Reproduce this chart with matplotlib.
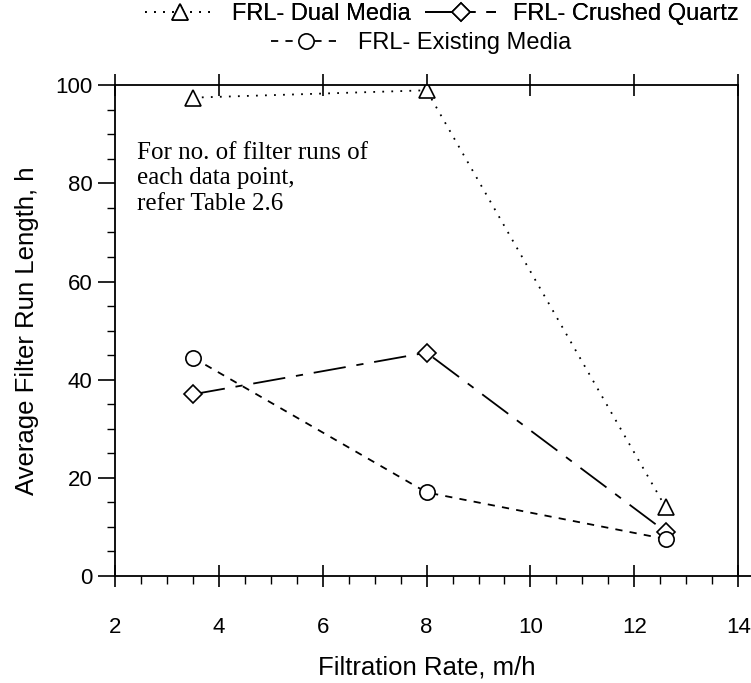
import matplotlib.pyplot as plt
from matplotlib.lines import Line2D
from matplotlib.ticker import MultipleLocator

plt.rcParams['font.family'] = ['Liberation Sans', 'DejaVu Sans']

# filtration rate (m/h) and average filter run length (h)
rate = [3.5, 8.0, 12.6]
frl_dual = [97.5, 99.0, 14.0]
frl_quartz = [37.0, 45.5, 9.0]
frl_existing = [44.5, 17.0, 7.5]

fig = plt.figure(figsize=(7.51, 6.83), dpi=100)
ax = fig.add_axes([0.153, 0.157, 0.830, 0.718])

common = dict(color='black', lw=1.3, markersize=11, markerfacecolor='white',
              markeredgewidth=1.2)
l1, = ax.plot(rate, frl_dual, marker='^', linestyle=(0, (1, 4)),
              label='FRL- Dual Media', **common)
l2, = ax.plot(rate, frl_quartz, marker='D', linestyle=(0, (18, 6, 4, 6)),
              label='FRL- Crushed Quartz', **{**common, 'markersize': 9})
l3, = ax.plot(rate, frl_existing, marker='o', linestyle=(0, (4, 4)),
              label='FRL- Existing Media', **common)

ax.set_xlim(2, 14)
ax.set_ylim(0, 100)
ax.xaxis.set_major_locator(MultipleLocator(2))
ax.xaxis.set_minor_locator(MultipleLocator(0.5))
ax.yaxis.set_major_locator(MultipleLocator(20))
ax.yaxis.set_minor_locator(MultipleLocator(5))
ax.tick_params(axis='x', which='major', direction='inout', length=16, width=1.2,
               pad=22, labelsize=16, top=True)
ax.tick_params(axis='x', which='minor', direction='out', length=6, width=1.0,
               top=False)
ax.tick_params(axis='y', which='major', direction='out', length=12, width=1.2,
               pad=4, labelsize=16)
ax.tick_params(axis='y', which='minor', direction='out', length=6, width=1.0)
for s in ax.spines.values():
    s.set_linewidth(1.3)

# bottom axis line runs a little past the right frame
ax.add_line(Line2D([1.0, 1.02], [0, 0], transform=ax.transAxes, color='black',
                   lw=1.3, clip_on=False))

ax.set_xlabel('Filtration Rate, m/h', fontsize=18.5, labelpad=12)
ax.set_ylabel('Average Filter Run Length, h', fontsize=18.5, labelpad=12)

ax.text(0.035, 0.885, 'For no. of filter runs of\neach data point,\nrefer Table 2.6',
        transform=ax.transAxes, ha='left', va='top', fontsize=18,
        family='Liberation Serif', linespacing=1.2)

leg_kw = dict(loc='center', frameon=False, fontsize=17, handlelength=3.0,
              handletextpad=0.7, borderpad=0)
leg1 = fig.legend(handles=[l1, l2], ncol=2, bbox_to_anchor=(0.588, 0.979),
                  columnspacing=0.6, **leg_kw)
leg2 = fig.legend(handles=[l3], bbox_to_anchor=(0.561, 0.937), **leg_kw)
fig.add_artist(leg1)

fig.savefig('out.png', dpi=100)
